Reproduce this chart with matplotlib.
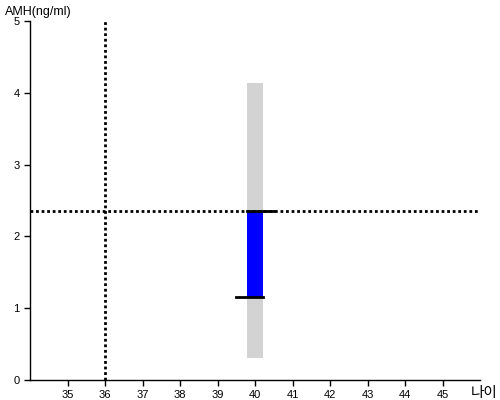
import numpy as np
import matplotlib.pyplot as plt

plt.rcParams['font.family'] = ['Liberation Sans', 'Noto Sans CJK KR', 'DejaVu Sans']

# data
age = 40
amh_range = [0.31, 4.14]      # grey reference band
amh_now = 2.35                # current value (top of blue bar)
amh_pred = 1.15               # predicted value (bottom of blue bar)
age_ref = 36
xticks = list(range(35, 46))
yticks = [0, 1, 2, 3, 4, 5]
bar_w = 0.42

fig = plt.figure(figsize=(5, 4), dpi=100)
ax = fig.add_axes([0.06, 0.05, 0.90, 0.8975])

# grey band and blue bar
ax.bar(age, amh_range[1] - amh_range[0], bottom=amh_range[0], width=bar_w,
       color='#d3d3d3', zorder=1)
ax.bar(age, amh_now - amh_pred, bottom=amh_pred, width=bar_w,
       color='#0000ff', zorder=2)

# reference lines
ax.axhline(amh_now, color='black', linestyle=(0, (1, 1)), linewidth=2, zorder=3)
ax.axvline(age_ref, color='black', linestyle=(0, (1, 1)), linewidth=2, zorder=3)

# markers at top and bottom of blue bar
ax.plot([age - bar_w / 2, age + 0.5], [amh_now, amh_now], color='black', linewidth=2, zorder=4)
ax.plot([age - 0.52, age + bar_w / 2], [amh_pred, amh_pred], color='black', linewidth=2, zorder=4)

ax.set_xlim(34, 46)
ax.set_ylim(0, 5)
ax.set_xticks(xticks)
ax.set_yticks(yticks)
ax.tick_params(labelsize=8, length=4, width=1, direction='out', colors='black')
for s in ['top', 'right']:
    ax.spines[s].set_visible(False)
for s in ['left', 'bottom']:
    ax.spines[s].set_linewidth(1)

fig.text(0.01, 0.97, 'AMH(ng/ml)', fontsize=9, ha='left', va='center')
fig.text(0.996, 0.017, '나이', fontsize=10.5, ha='right', va='center')

fig.savefig('out.png', dpi=100)
